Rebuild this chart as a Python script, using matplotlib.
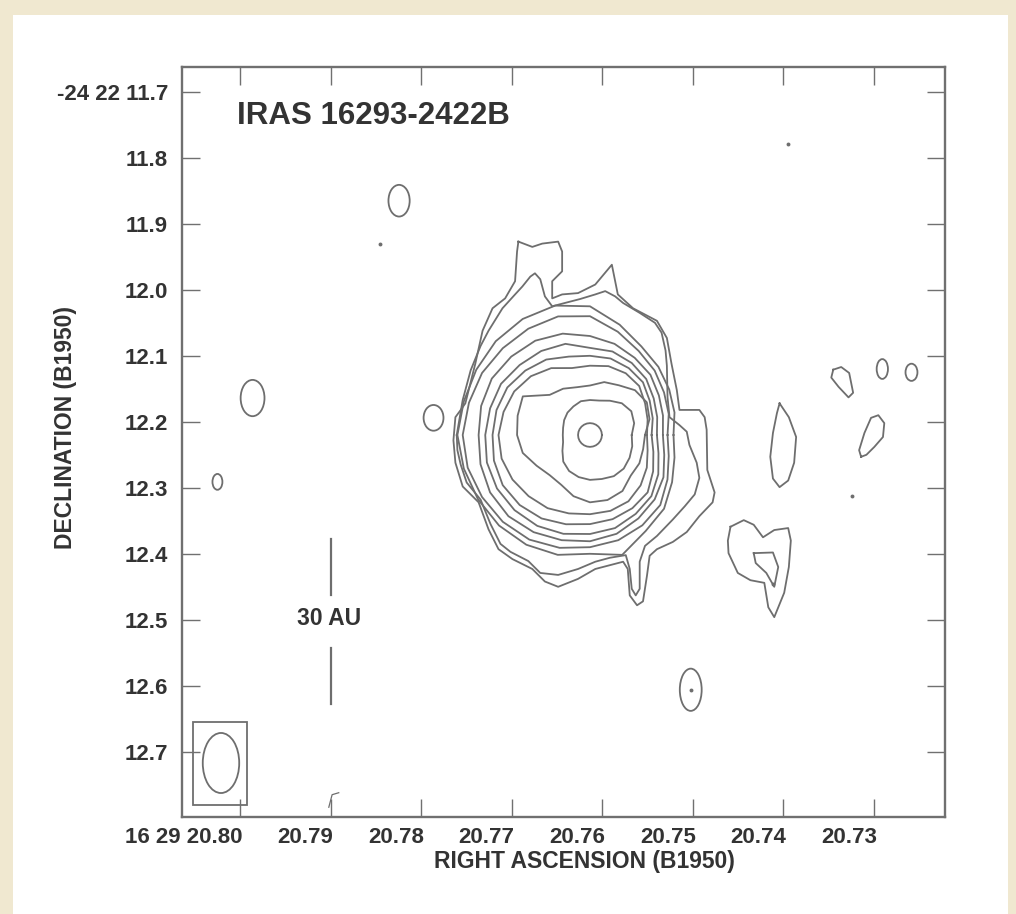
import numpy as np
import matplotlib
matplotlib.use("Agg")
import matplotlib.pyplot as plt
from matplotlib.patches import Ellipse, Rectangle
from matplotlib import transforms

plt.rcParams['font.family'] = ['Liberation Sans', 'DejaVu Sans']

# ---------------- axes / ticks ----------------
ra_ticks = [20.80, 20.79, 20.78, 20.77, 20.76, 20.75, 20.74, 20.73]
ra_tick_labels = ['16 29 20.80', '20.79', '20.78', '20.77', '20.76', '20.75', '20.74', '20.73']
dec_ticks = [11.7, 11.8, 11.9, 12.0, 12.1, 12.2, 12.3, 12.4, 12.5, 12.6, 12.7]
dec_tick_labels = ['-24 22 11.7', '11.8', '11.9', '12.0', '12.1', '12.2', '12.3', '12.4', '12.5', '12.6', '12.7']
ra_limits = (20.80640, 20.72216)
dec_limits = (12.79848, 11.66212)

title_text = 'IRAS 16293-2422B'
xlabel_text = 'RIGHT ASCENSION (B1950)'
ylabel_text = 'DECLINATION (B1950)'

# ---------------- source reference position ----------------
peak_ra = 20.761356          # s  (16 29 20.7614)
peak_dec = 12.2197           # arcsec (-24 22 12.22)
dec_degrees = -24.37
arcsec_per_ra_second = 15.0 * np.cos(np.radians(dec_degrees))

# ---------------- main source: inner contours as radius (mas) vs position angle ----------------
contour_angles_deg = [0, 15, 30, 45, 60, 75, 90, 105, 120, 135, 150, 165,
                      180, 195, 210, 225, 240, 255, 270, 285, 300, 315, 330, 345]
contour_c1 = [18, 18, 18, 18, 18, 18, 18, 18, 18, 18, 18, 18,
              18, 18, 18, 18, 18, 18, 18, 18, 18, 18, 18, 18]
contour_c2 = [63, 69, 72, 68, 60, 54, 53, 53, 50, 48, 45, 42,
              41, 42, 48, 57, 63, 66, 68, 69, 72, 72, 69, 66]
contour_c3 = [83, 93, 99, 96, 87, 83, 75, 75, 81, 86, 117, 113,
              110, 105, 93, 86, 87, 96, 102, 102, 98, 87, 86, 83]
contour_c4 = [86, 90, 96, 105, 108, 108, 105, 105, 117, 126, 132, 135,
              138, 138, 135, 131, 128, 123, 120, 119, 116, 108, 99, 90]
contour_c5 = [93, 98, 104, 113, 117, 120, 120, 123, 132, 138, 144, 146,
              147, 150, 152, 150, 146, 140, 135, 132, 128, 123, 110, 99]
contour_c6 = [101, 105, 111, 120, 126, 131, 132, 143, 147, 150, 155, 156,
              158, 161, 162, 161, 159, 155, 150, 146, 138, 131, 119, 107]
contour_c7 = [110, 114, 120, 129, 135, 143, 150, 159, 165, 168, 171, 170,
              168, 171, 174, 174, 170, 165, 161, 155, 146, 138, 128, 116]
contour_c8 = [117, 123, 129, 138, 147, 162, 180, 186, 186, 186, 188, 189,
              192, 191, 188, 186, 183, 177, 170, 165, 158, 150, 135, 123]
contour_c9 = [126, 132, 138, 146, 155, 173, 195, 203, 203, 201, 198, 197,
              200, 197, 195, 194, 192, 188, 180, 188, 168, 158, 143, 132]

# outer two contours as vertex lists: (east offset mas, north offset mas)
contour_c10_east = [201, 192, 180, 165, 153, 132, 113, 102, 90, 83, 75, 68, 57, 38, 15, -8, -23, -38,
                    -50, -75, -98, -108, -114, -116, -117, -120, -135, -146, -150, -161, -165, -158,
                    -143, -125, -101, -83, -75, -75, -69, -63, -60, -54, -30, -8, 18, 48, 75, 93,
                    120, 135, 150, 165, 186, 195, 200]
contour_c10_north = [0, 53, 98, 135, 158, 192, 213, 225, 240, 245, 236, 210, 195, 200, 206, 213, 218, 210,
                     200, 185, 170, 155, 128, 105, 57, 27, 15, 5, -15, -42, -65, -90,
                     -108, -128, -153, -168, -192, -233, -243, -233, -203, -182, -186, -192, -203, -212, -209, -191,
                     -177, -165, -135, -98, -72, -45, -23]
contour_c11_east = [108, 87, 72, 48, 42, 42, 57, 57, 42, 18, -8, -33, -42, -65, -101, -116, -123,
                    -131, -135, -165, -173, -176, -177, -188, -185, -165, -146, -125, -101, -90,
                    -86, -80, -71, -60, -57, -50, -8, 18, 48, 68, 87, 117, 138, 153, 168, 192,
                    203, 206, 203, 195, 188, 173, 162, 147, 128, 113, 110]
contour_c11_north = [293, 285, 290, 293, 278, 248, 233, 207, 213, 215, 228, 258, 213, 192, 173, 147, 108,
                     68, 38, 38, 27, 8, -53, -87, -102, -123, -147, -162, -173, -183,
                     -213, -252, -258, -243, -203, -192, -203, -218, -230, -222, -203, -188, -173, -143, -102, -78,
                     -42, -8, 27, 38, 48, 108, 158, 192, 207, 233, 278]

# ---------------- weaker emission features ----------------
# elliptical islands: east offset, north offset, width, height (mas)
island_east = [288, 509, 236, 562, -441, -485, -152]
island_north = [355, 56, 26, -71, 100, 95, -386]
island_width = [32, 36, 30, 15, 17, 18, 33]
island_height = [48, 55, 39, 24, 30, 26, 64]

# single-pixel peaks (east, north mas)
dot_east = [317, -298, -395, -152, -276]
dot_north = [289, 441, -92, -386, -226]

# irregular islands (east, north mas)
blob_w_east = [-367, -379, -391, -397, -390, -375, -364]
blob_w_north = [99, 103, 94, 64, 57, 73, 87]
tear_east = [-409, -406, -414, -424, -435, -444, -442, -429, -417]
tear_north = [-33, -23, 3, 26, 30, 18, -3, -18, -30]
ridge_east = [-286, -300, -311, -308, -299, -286, -276, -272, -276, -282]
ridge_north = [48, 27, -3, -42, -69, -79, -66, -33, 3, 33]
heart_east = [-212, -232, -247, -261, -278, -299, -303, -300, -293, -278, -269, -263, -242, -223, -209, -208]
heart_north = [-139, -129, -136, -155, -144, -141, -160, -200, -239, -276, -261, -224, -220, -209, -179, -160]
heart_inner_east = [-247, -276, -284, -278, -266, -250]
heart_inner_north = [-179, -178, -200, -230, -209, -194]
hook_east = [394, 389, 379]
hook_north = [-564, -545, -542]

# ---------------- beam and scale bar ----------------
beam_minor_mas = 55
beam_major_mas = 91
scale_au = 30
distance_pc = 120
scale_bar_ra = 20.79
scale_bar_dec = 12.502

# ---------------- helpers ----------------
def to_sky(east_mas, north_mas):
    e = np.asarray(east_mas, float)
    n = np.asarray(north_mas, float)
    ra = peak_ra + e / 1000.0 / arcsec_per_ra_second
    dec = peak_dec - n / 1000.0
    return ra, dec


def closed(a):
    a = list(a)
    return a + a[:1]


line_color = '#6e6e6e'
line_width = 1.3
text_color = '#333333'
frame_color = '#707070'

fig = plt.figure(figsize=(10.16, 9.14), dpi=100)
fig.patch.set_facecolor('#f0e8d0')
fig.add_artist(Rectangle((13 / 1016, 0), (1008 - 13) / 1016, (914 - 15) / 914,
                         transform=fig.transFigure, facecolor='white',
                         edgecolor='none', zorder=-5))

ax = fig.add_axes([0.17913, 0.10613, 0.75098, 0.82057])
ax.set_facecolor('white')
ax.set_xlim(*ra_limits)
ax.set_ylim(*dec_limits)

# radial contours
theta = np.radians(contour_angles_deg)
for radii in [contour_c1, contour_c2, contour_c3, contour_c4, contour_c5,
              contour_c6, contour_c7, contour_c8, contour_c9]:
    r = np.asarray(radii, float)
    east = -r * np.cos(theta)
    north = r * np.sin(theta)
    ra, dec = to_sky(closed(east), closed(north))
    ax.plot(ra, dec, color=line_color, lw=line_width, solid_joinstyle='round')

for e, n in [(contour_c10_east, contour_c10_north), (contour_c11_east, contour_c11_north),
             (blob_w_east, blob_w_north), (tear_east, tear_north),
             (ridge_east, ridge_north), (heart_east, heart_north),
             (heart_inner_east, heart_inner_north)]:
    ra, dec = to_sky(closed(e), closed(n))
    ax.plot(ra, dec, color=line_color, lw=line_width, solid_joinstyle='round')

ra, dec = to_sky(hook_east, hook_north)
ax.plot(ra, dec, color=line_color, lw=0.9)

for e, n, w, h in zip(island_east, island_north, island_width, island_height):
    ra, dec = to_sky([e], [n])
    ax.add_patch(Ellipse((ra[0], dec[0]), w / 1000.0 / arcsec_per_ra_second, h / 1000.0,
                         facecolor='none', edgecolor=line_color, lw=line_width))

ra, dec = to_sky(dot_east, dot_north)
ax.plot(ra, dec, 'o', ms=2.8, color=line_color, mec='none')

# beam (lower-left box)
x0, x1 = ra_limits
y0, y1 = dec_limits
box_fx0, box_fx1, box_fy0, box_fy1 = 0.0144, 0.0852, 0.016, 0.1267
ax.add_patch(Rectangle((box_fx0, box_fy0), box_fx1 - box_fx0, box_fy1 - box_fy0,
                       transform=ax.transAxes, facecolor='none', edgecolor=line_color, lw=1.3))
beam_ra = x0 + 0.0511 * (x1 - x0)
beam_dec = y0 + 0.072 * (y1 - y0)
ax.add_patch(Ellipse((beam_ra, beam_dec), beam_minor_mas / 1000.0 / arcsec_per_ra_second,
                     beam_major_mas / 1000.0, facecolor='none', edgecolor=line_color, lw=1.3))

# 30 AU scale bar
bar_len = scale_au / distance_pc  # arcsec
gap = 0.04
ax.plot([scale_bar_ra, scale_bar_ra], [scale_bar_dec - bar_len / 2, scale_bar_dec - gap],
        color=line_color, lw=1.6)
ax.plot([scale_bar_ra, scale_bar_ra], [scale_bar_dec + gap, scale_bar_dec + bar_len / 2],
        color=line_color, lw=1.6)
ax.text(scale_bar_ra + 0.0002, scale_bar_dec - 0.005, f'{scale_au} AU', ha='center', va='center',
        fontsize=16.5, fontweight='bold', color=text_color)

# title
ax.text(0.072, 0.9347, title_text, transform=ax.transAxes, ha='left', va='center',
        fontsize=22.5, fontweight='bold', color=text_color)

# ticks
ax.set_xticks(ra_ticks)
ax.set_xticklabels(ra_tick_labels)
ax.set_yticks(dec_ticks)
ax.set_yticklabels(dec_tick_labels)
ax.tick_params(axis='both', which='major', direction='in', length=13, width=1.0,
               color=frame_color, top=True, right=True, labelsize=16,
               labelcolor=text_color)
ax.tick_params(axis='x', pad=7)
ax.tick_params(axis='y', pad=10)
offset = transforms.ScaledTranslation(3 / 100, 0, fig.dpi_scale_trans)
for lab in ax.get_xticklabels():
    lab.set_ha('right')
    lab.set_transform(lab.get_transform() + offset)
    lab.set_fontweight('bold')
for lab in ax.get_yticklabels():
    lab.set_fontweight('bold')

for sp in ax.spines.values():
    sp.set_color(frame_color)
    sp.set_linewidth(1.7)

ax.set_xlabel(xlabel_text, fontsize=16.5, fontweight='bold', color=text_color)
ax.xaxis.label.set_va('center')
ax.xaxis.set_label_coords(0.528, -0.060)
ax.set_ylabel(ylabel_text, fontsize=16.5, fontweight='bold', color=text_color)
ax.yaxis.label.set_va('center')
ax.yaxis.set_label_coords(-0.153, 0.5187)

fig.savefig('out.png', dpi=100, facecolor=fig.get_facecolor())
